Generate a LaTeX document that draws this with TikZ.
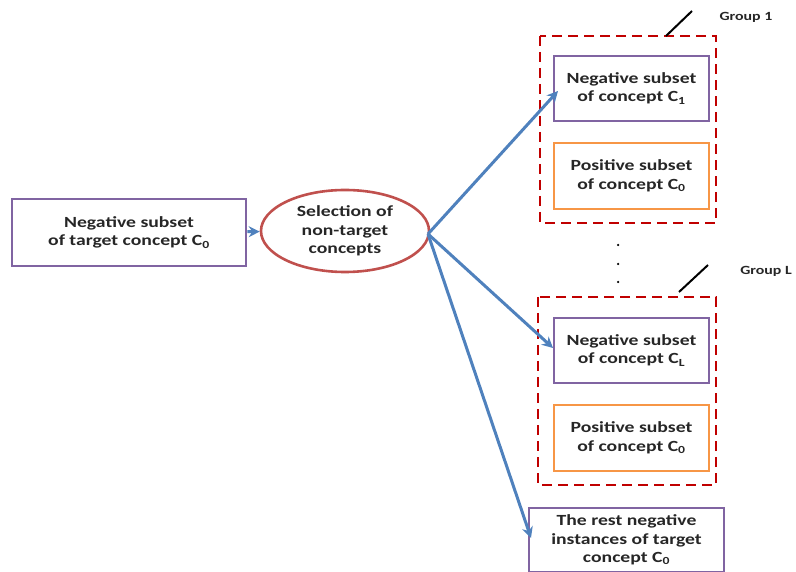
\documentclass[tikz,border=0pt]{standalone}
\usepackage{fontspec}
\setmainfont{Carlito}[FakeStretch=1.27]
\usetikzlibrary{shapes.geometric,arrows.meta}
\definecolor{boxpurple}{RGB}{128,100,162}
\definecolor{boxorange}{RGB}{247,150,70}
\definecolor{ellred}{RGB}{192,80,77}
\definecolor{arrblue}{RGB}{79,129,189}
\definecolor{dashred}{RGB}{192,0,0}
\tikzset{
  txt/.style={font=\bfseries\fontsize{15.5}{18.5}\selectfont, align=center, text=black!85},
  pbox/.style={txt, draw=boxpurple, line width=2.6pt, inner sep=0pt},
  obox/.style={txt, draw=boxorange, line width=2.6pt, inner sep=0pt},
  ell/.style={txt, ellipse, draw=ellred, line width=2.6pt, inner sep=0pt},
  grp/.style={draw=dashred, line width=2.8pt, dash pattern=on 10pt off 6pt},
  arr/.style={draw=arrblue, line width=3pt, -{Stealth[length=11pt,width=11pt]}},
  glabel/.style={font=\bfseries\fontsize{12.5}{14}\selectfont, text=black!85},
  slash/.style={draw=black, line width=2pt},
  dotn/.style={circle, fill=black, inner sep=0pt, minimum size=2.5pt}
}
\begin{document}
\begin{tikzpicture}[x=1pt,y=-1pt]
\useasboundingbox (0,0) rectangle (796,572);
\node[pbox, minimum width=234pt, minimum height=67pt] (src) at (129,232.5) {Negative subset\\of target concept C\textsubscript{0}};
\node[ell, minimum width=168pt, minimum height=82pt] (sel) at (345,231) {Selection of\\non-target\\concepts};
\draw[grp] (540,36) rectangle (716,223);
\draw[grp] (538,297) rectangle (716,485);
\node[pbox, minimum width=155pt, minimum height=65pt] (n1) at (631.5,88.5) {Negative subset\\of concept C\textsubscript{1}};
\node[obox, minimum width=155pt, minimum height=66pt] (p1) at (631.5,176) {Positive subset\\of concept C\textsubscript{0}};
\node[pbox, minimum width=155pt, minimum height=65pt] (nl) at (631.5,350.5) {Negative subset\\of concept C\textsubscript{L}};
\node[obox, minimum width=155pt, minimum height=66pt] (pl) at (631.5,438) {Positive subset\\of concept C\textsubscript{0}};
\node[pbox, minimum width=195pt, minimum height=64pt] (rest) at (626.5,540) {The rest negative\\instances of target\\concept C\textsubscript{0}};
\node[glabel] (g1) at (746,17) {Group 1};
\node[glabel] (gl) at (766,271) {Group L};
\coordinate (s1a) at (666,36);
\coordinate (s1b) at (692,11);
\coordinate (sla) at (679,292);
\coordinate (slb) at (708,265);
\draw[slash] (s1a) -- (s1b);
\draw[slash] (sla) -- (slb);
\node[dotn] (d1) at (618,245) {};
\node[dotn] (d2) at (618,264) {};
\node[dotn] (d3) at (618,282) {};
\coordinate (fan) at (428,234);
\draw[arr] (src) -- (sel);
\draw[arr] (fan) -- (558,91);
\draw[arr] (fan) -- (553,348);
\draw[arr] (fan) -- (531,538);
\end{tikzpicture}
\end{document}
